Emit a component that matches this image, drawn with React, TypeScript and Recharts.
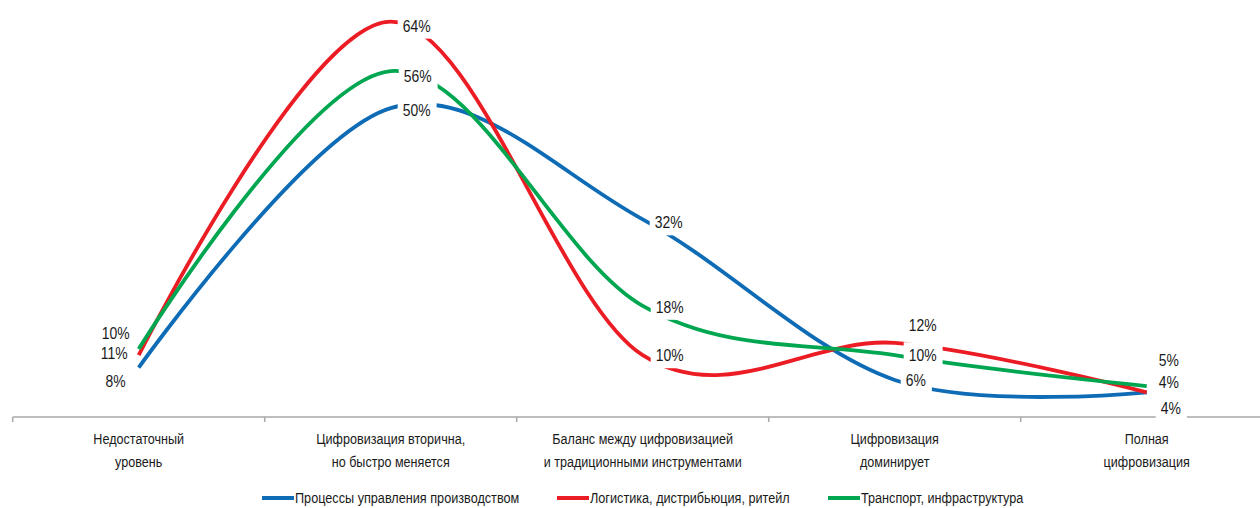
import React from 'react';
import { LineChart, Line, XAxis, YAxis, Legend, LabelList } from 'recharts';

// ---------- data ----------
const categories = [
  'Недостаточный\nуровень',
  'Цифровизация вторична,\nно быстро меняется',
  'Баланс между цифровизацией\nи традиционными инструментами',
  'Цифровизация\nдоминирует',
  'Полная\nцифровизация',
];
const productionValues = [8, 50, 32, 6, 4];
const logisticsValues = [10, 64, 10, 12, 4];
const transportValues = [11, 56, 18, 10, 5];
const seriesNames = [
  'Процессы управления производством',
  'Логистика, дистрибьюция, ритейл',
  'Транспорт, инфраструктура',
];

const data = categories.map((c, i) => ({
  category: c,
  production: productionValues[i],
  logistics: logisticsValues[i],
  transport: transportValues[i],
}));

// ---------- presentation ----------
const FONT = '"Liberation Sans", Arial, sans-serif';
const NARROW = 0.82; // horizontal squeeze to mimic Arial Narrow
const TICK_NARROW = 0.84;
const LEGEND_NARROW = 0.845;
const COLORS = { production: '#0e6bb5', logistics: '#ec1c24', transport: '#00a650' };
const AXIS_COLOR = '#a8a8a8';
const TEXT_COLOR = '#1a1a1a';

type LabelPos = { dx: number; dy: number; anchor?: 'start' | 'end' };
const LABEL_LAYOUT: Record<string, LabelPos[]> = {
  production: [
    { dx: -13, dy: 13, anchor: 'end' },
    { dx: 12, dy: 2 },
    { dx: 12, dy: 3 },
    { dx: 11, dy: 0 },
    { dx: 14, dy: 16 },
  ],
  logistics: [
    { dx: -9, dy: -22, anchor: 'end' },
    { dx: 12, dy: 4 },
    { dx: 13, dy: 0 },
    { dx: 14, dy: -18 },
    { dx: 12, dy: -10 },
  ],
  transport: [
    { dx: -11, dy: 4, anchor: 'end' },
    { dx: 13, dy: 5 },
    { dx: 13, dy: 1 },
    { dx: 14, dy: 0 },
    { dx: 12, dy: -26 },
  ],
};

// Catmull-Rom (cardinal, tension 0) curve, like Excel's smoothed line
class CardinalCurve {
  _context: any;
  _k: number;
  _line = NaN;
  _point = 0;
  _x0 = NaN; _x1 = NaN; _x2 = NaN;
  _y0 = NaN; _y1 = NaN; _y2 = NaN;
  constructor(context: any, k: number) {
    this._context = context;
    this._k = k;
  }
  _bez(x: number, y: number) {
    this._context.bezierCurveTo(
      this._x1 + this._k * (this._x2 - this._x0),
      this._y1 + this._k * (this._y2 - this._y0),
      this._x2 + this._k * (this._x1 - x),
      this._y2 + this._k * (this._y1 - y),
      this._x2,
      this._y2,
    );
  }
  areaStart() { this._line = 0; }
  areaEnd() { this._line = NaN; }
  lineStart() {
    this._x0 = this._x1 = this._x2 = this._y0 = this._y1 = this._y2 = NaN;
    this._point = 0;
  }
  lineEnd() {
    switch (this._point) {
      case 2: this._context.lineTo(this._x2, this._y2); break;
      case 3: this._bez(this._x1, this._y1); break;
    }
    if (this._line || (this._line !== 0 && this._point === 1)) this._context.closePath();
    this._line = 1 - this._line;
  }
  point(x: number, y: number) {
    x = +x; y = +y;
    switch (this._point) {
      case 0:
        this._point = 1;
        if (this._line) this._context.lineTo(x, y); else this._context.moveTo(x, y);
        break;
      case 1:
        this._point = 2; this._x1 = x; this._y1 = y;
        break;
      case 2:
        this._point = 3;
        this._bez(x, y);
        break;
      default:
        this._bez(x, y);
        break;
    }
    this._x0 = this._x1; this._x1 = this._x2; this._x2 = x;
    this._y0 = this._y1; this._y1 = this._y2; this._y2 = y;
  }
}
const smoothCurve: any = (context: any) => new CardinalCurve(context, 1 / 6);

let measureCtx: CanvasRenderingContext2D | null = null;
function measure(s: string, size: number, squeeze: number) {
  try {
    if (!measureCtx) measureCtx = document.createElement('canvas').getContext('2d');
    if (measureCtx) {
      measureCtx.font = `${size}px ${FONT}`;
      return measureCtx.measureText(s).width * squeeze;
    }
  } catch (e) {
    /* ignore */
  }
  return s.length * size * 0.55 * squeeze;
}

const LABEL_FONT_SIZE = 17;

const NarrowText = ({ x, y, anchor, size, squeeze, children }: any) => (
  <g transform={`translate(${x},${y}) scale(${squeeze ?? NARROW},1)`}>
    <text
      x={0}
      y={0}
      textAnchor={anchor}
      dominantBaseline="central"
      fontFamily={FONT}
      fontSize={size}
      fill={TEXT_COLOR}
    >
      {children}
    </text>
  </g>
);

const makeLabel = (key: string) => (props: any) => {
  const { x, y, value, index } = props;
  if (x == null || y == null) return null;
  const pos = LABEL_LAYOUT[key][index] || { dx: 12, dy: 0 };
  const text = `${value}%`;
  const w = measure(text, LABEL_FONT_SIZE, NARROW);
  const anchor = pos.anchor || 'start';
  const tx = x + pos.dx;
  const ty = y + pos.dy;
  const left = anchor === 'start' ? tx : tx - w;
  return (
    <g>
      <rect x={left - 5} y={ty - 13} width={w + 11} height={26} fill="#ffffff" />
      <NarrowText x={tx} y={ty} anchor={anchor} size={LABEL_FONT_SIZE}>{text}</NarrowText>
    </g>
  );
};

const CategoryTick = (props: any) => {
  const { x, y, payload, index } = props;
  const half = payload && typeof payload.offset === 'number' && payload.offset > 0 ? payload.offset : 126;
  const lines = String(payload.value).split('\n');
  const isLast = index === categories.length - 1;
  return (
    <g>
      <line x1={x - half} x2={x - half} y1={y} y2={y + 5} stroke={AXIS_COLOR} strokeWidth={1.5} />
      {isLast && <line x1={x + half} x2={x + half} y1={y} y2={y + 5} stroke={AXIS_COLOR} strokeWidth={1.5} />}
      {lines.map((l, i) => (
        <NarrowText key={i} x={x} y={y + 21.5 + i * 23.5} anchor="middle" size={15} squeeze={TICK_NARROW}>{l}</NarrowText>
      ))}
    </g>
  );
};

const renderLegend = (props: any) => {
  const items = (props.payload || [])
    .filter((p: any) => seriesNames.includes(p.value))
    .sort((a: any, b: any) => seriesNames.indexOf(a.value) - seriesNames.indexOf(b.value));
  return (
    <div
      style={{
        height: 31,
        boxSizing: 'border-box',
        paddingTop: 10,
        display: 'flex',
        justifyContent: 'center',
        alignItems: 'center',
      }}
    >
      {items.map((p: any, i: number) => {
        const w = measure(p.value, 15, LEGEND_NARROW);
        return (
          <div key={i} style={{ display: 'flex', alignItems: 'center', marginLeft: i === 0 ? 0 : 38, height: 20 }}>
            <span style={{ display: 'inline-block', width: 32, height: 4, background: p.color, marginRight: 1 }} />
            <svg width={w} height={20} style={{ overflow: 'visible', display: 'block' }}>
              <NarrowText x={0} y={10} anchor="start" size={15} squeeze={LEGEND_NARROW}>{p.value}</NarrowText>
            </svg>
          </div>
        );
      })}
    </div>
  );
};

export default function App() {
  const keys: (keyof typeof COLORS)[] = ['production', 'logistics', 'transport'];
  return (
    <div style={{ position: 'absolute', left: 0, top: 0, width: 1260, height: 508, overflow: 'hidden', background: '#fff' }}>
      <LineChart
        width={1280}
        height={508}
        data={data}
        margin={{ top: 0, right: 7.3, bottom: 0, left: 12.7 }}
      >
        <XAxis
          dataKey="category"
          scale="band"
          interval={0}
          tickLine={false}
          tickSize={0}
          tickMargin={0}
          height={60}
          axisLine={{ stroke: AXIS_COLOR, strokeWidth: 1.5 }}
          tick={<CategoryTick />}
        />
        <YAxis hide domain={[0, 67.5]} />
        <Legend verticalAlign="bottom" align="center" height={31} content={renderLegend} />
        {keys.map((k, i) => (
          <Line
            key={k}
            dataKey={k}
            name={seriesNames[i]}
            type={smoothCurve}
            stroke={COLORS[k]}
            strokeWidth={3.8}
            dot={false}
            activeDot={false}
            isAnimationActive={false}
          />
        ))}
        {keys.map((k) => (
          <Line
            key={`${k}-labels`}
            dataKey={k}
            name={`${k}-labels`}
            legendType="none"
            stroke="none"
            dot={false}
            activeDot={false}
            isAnimationActive={false}
          >
            <LabelList dataKey={k} content={makeLabel(k)} />
          </Line>
        ))}
      </LineChart>
    </div>
  );
}
